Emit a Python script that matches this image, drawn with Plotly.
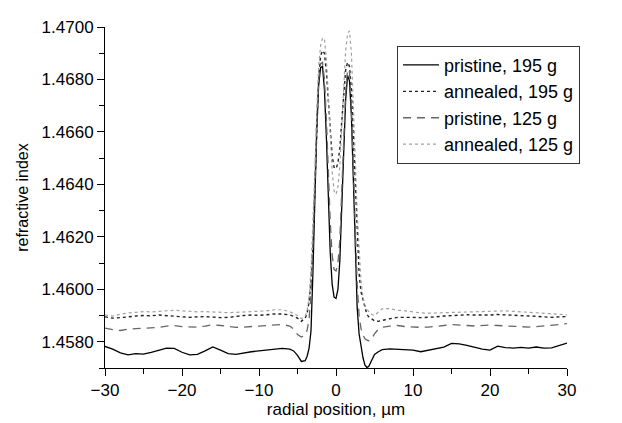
import plotly.graph_objects as go

# radial positions (um) shared by all four profiles
x_pos = [
    -30, -29, -28, -27, -26, -25, -24, -23, -22, -21, -20, -19, -18, -17, -16,
    -15, -14, -13, -12, -11, -10, -9, -8, -7, -6,
    -5.5, -5, -4.5, -4, -3.75, -3.5, -3.25, -3, -2.75, -2.5, -2.25, -2, -1.75,
    -1.5, -1.25, -1, -0.75, -0.5, -0.25, 0, 0.25, 0.5, 0.75, 1, 1.25, 1.5,
    1.75, 2, 2.25, 2.5, 2.75, 3, 3.25, 3.5, 3.75, 4, 4.25, 4.5, 5, 5.5,
    6, 7, 8, 9, 10, 11, 12, 13, 14, 15, 16, 17, 18, 19, 20, 21, 22, 23, 24,
    25, 26, 27, 28, 29, 30,
]

pristine_195 = [
    1.45782, 1.45772, 1.45758, 1.45750, 1.45755, 1.45753, 1.45760, 1.45768,
    1.45776, 1.45775, 1.45760, 1.45750, 1.45752, 1.45765, 1.45780, 1.45768,
    1.45755, 1.45752, 1.45758, 1.45762, 1.45765, 1.45768, 1.45770, 1.45775,
    1.45772,
    1.45765, 1.45748, 1.45725, 1.45728, 1.45745, 1.45775, 1.45840, 1.46060,
    1.46340, 1.46610, 1.46780, 1.46845, 1.46850, 1.46760, 1.46580, 1.46350,
    1.46140, 1.46020, 1.45970, 1.45965, 1.46000, 1.46110, 1.46290, 1.46520,
    1.46720, 1.46815, 1.46795, 1.46660, 1.46420, 1.46130, 1.45930, 1.45830,
    1.45780, 1.45740, 1.45712, 1.45702, 1.45706, 1.45722, 1.45752, 1.45762,
    1.45770, 1.45773, 1.45771, 1.45770, 1.45768, 1.45762, 1.45768, 1.45772,
    1.45780, 1.45794, 1.45792, 1.45786, 1.45778, 1.45772, 1.45768, 1.45783,
    1.45778, 1.45776, 1.45779, 1.45776, 1.45780, 1.45776, 1.45777, 1.45785,
    1.45795,
]

annealed_195 = [
    1.45895, 1.45890, 1.45892, 1.45896, 1.45898, 1.45900, 1.45899, 1.45902,
    1.45900, 1.45896, 1.45894, 1.45893, 1.45895, 1.45896, 1.45894, 1.45892,
    1.45893, 1.45897, 1.45900, 1.45902, 1.45901, 1.45903, 1.45906, 1.45906,
    1.45902,
    1.45897, 1.45890, 1.45878, 1.45890, 1.45910, 1.45950, 1.46030, 1.46160,
    1.46380, 1.46630, 1.46810, 1.46890, 1.46910, 1.46900, 1.46830, 1.46720,
    1.46600, 1.46510, 1.46465, 1.46460, 1.46480, 1.46540, 1.46640, 1.46750,
    1.46835, 1.46865, 1.46850, 1.46760, 1.46580, 1.46380, 1.46200, 1.46060,
    1.45990, 1.45960, 1.45930, 1.45905, 1.45895, 1.45890, 1.45880, 1.45878,
    1.45882, 1.45888, 1.45893, 1.45894, 1.45893, 1.45892, 1.45893, 1.45895,
    1.45898, 1.45900, 1.45902, 1.45903, 1.45902, 1.45901, 1.45902, 1.45904,
    1.45903, 1.45902, 1.45900, 1.45898, 1.45897, 1.45895, 1.45893, 1.45895,
    1.45896,
]

pristine_125 = [
    1.45852, 1.45846, 1.45843, 1.45848, 1.45850, 1.45852, 1.45853, 1.45855,
    1.45860, 1.45862, 1.45858, 1.45856, 1.45856, 1.45860, 1.45865, 1.45862,
    1.45858, 1.45855, 1.45856, 1.45858, 1.45860, 1.45862, 1.45865, 1.45866,
    1.45860,
    1.45848, 1.45828, 1.45818, 1.45825, 1.45845, 1.45885, 1.45980, 1.46170,
    1.46420, 1.46650, 1.46800, 1.46860, 1.46865, 1.46800, 1.46650, 1.46450,
    1.46260, 1.46130, 1.46075, 1.46070, 1.46100, 1.46190, 1.46360, 1.46570,
    1.46750, 1.46840, 1.46830, 1.46700, 1.46480, 1.46220, 1.46020, 1.45900,
    1.45850, 1.45825, 1.45812, 1.45806, 1.45804, 1.45805, 1.45830, 1.45848,
    1.45855, 1.45860, 1.45862, 1.45858, 1.45856, 1.45855, 1.45856, 1.45858,
    1.45862, 1.45866, 1.45865, 1.45862, 1.45860, 1.45862, 1.45864, 1.45862,
    1.45860, 1.45858, 1.45857, 1.45856, 1.45858, 1.45860, 1.45862, 1.45866,
    1.45869,
]

annealed_125 = [
    1.45902, 1.45898, 1.45905, 1.45910, 1.45912, 1.45915, 1.45914, 1.45916,
    1.45919, 1.45920, 1.45918, 1.45916, 1.45914, 1.45915, 1.45913, 1.45912,
    1.45911, 1.45912, 1.45913, 1.45915, 1.45916, 1.45918, 1.45922, 1.45922,
    1.45915,
    1.45908, 1.45900, 1.45888, 1.45898, 1.45920, 1.45970, 1.46070, 1.46230,
    1.46450, 1.46680, 1.46850, 1.46930, 1.46958, 1.46955, 1.46880, 1.46740,
    1.46580, 1.46450, 1.46375, 1.46362, 1.46390, 1.46470, 1.46620, 1.46790,
    1.46910, 1.46975, 1.46985, 1.46900, 1.46720, 1.46500, 1.46290, 1.46130,
    1.46030, 1.45970, 1.45940, 1.45925, 1.45915, 1.45906, 1.45900, 1.45912,
    1.45926, 1.45926, 1.45920, 1.45918, 1.45914, 1.45910, 1.45909, 1.45910,
    1.45912, 1.45913, 1.45913, 1.45914, 1.45915, 1.45916, 1.45917, 1.45918,
    1.45918, 1.45916, 1.45914, 1.45911, 1.45909, 1.45908, 1.45906, 1.45904,
    1.45903,
]

series = [
    ("pristine, 195 g", pristine_195, "black", "solid", 1.3),
    ("annealed, 195 g", annealed_195, "#222222", "dot", 1.4),
    ("pristine, 125 g", pristine_125, "#666666", "8px,6px", 1.3),
    ("annealed, 125 g", annealed_125, "#a0a0a0", "3px,3px", 1.2),
]

FONT = "Liberation Sans, Arial, Helvetica, sans-serif"

fig = go.Figure()
for name, ys, color, dash, width in series:
    fig.add_trace(go.Scatter(
        x=x_pos, y=ys, name=name, mode="lines",
        line=dict(color=color, dash=dash, width=width),
    ))

# the page body adds an 8px offset, so the figure is 8px smaller than the window
fig.update_layout(
    width=614, height=415,
    margin=dict(l=97, r=55, t=10, b=39),
    paper_bgcolor="white", plot_bgcolor="white",
    font=dict(family=FONT, size=16, color="black"),
    showlegend=True,
    legend=dict(
        x=0.632, y=0.945, xanchor="left", yanchor="top",
        bordercolor="#333333", borderwidth=1, bgcolor="white",
        font=dict(size=18), tracegroupgap=0, itemwidth=36,
    ),
)

fig.update_xaxes(
    range=[-30, 30], tick0=-30, dtick=10,
    showline=True, linecolor="black", linewidth=1,
    ticks="outside", ticklen=7, tickcolor="black",
    minor=dict(dtick=5, ticks="outside", ticklen=5, tickcolor="black"),
    showgrid=False, zeroline=False,
    tickfont=dict(size=17),
    title=dict(text="radial position, µm", font=dict(size=17), standoff=1),
)
fig.update_yaxes(
    range=[1.4570, 1.4700], tick0=1.4580, dtick=0.002, tickformat=".4f",
    showline=True, linecolor="black", linewidth=1,
    ticks="outside", ticklen=7, tickcolor="black",
    minor=dict(dtick=0.001, ticks="outside", ticklen=5, tickcolor="black"),
    showgrid=False, zeroline=False,
    tickfont=dict(size=17),
    title=dict(text="refractive index", font=dict(size=16), standoff=8),
)

fig.write_html("out.html")
